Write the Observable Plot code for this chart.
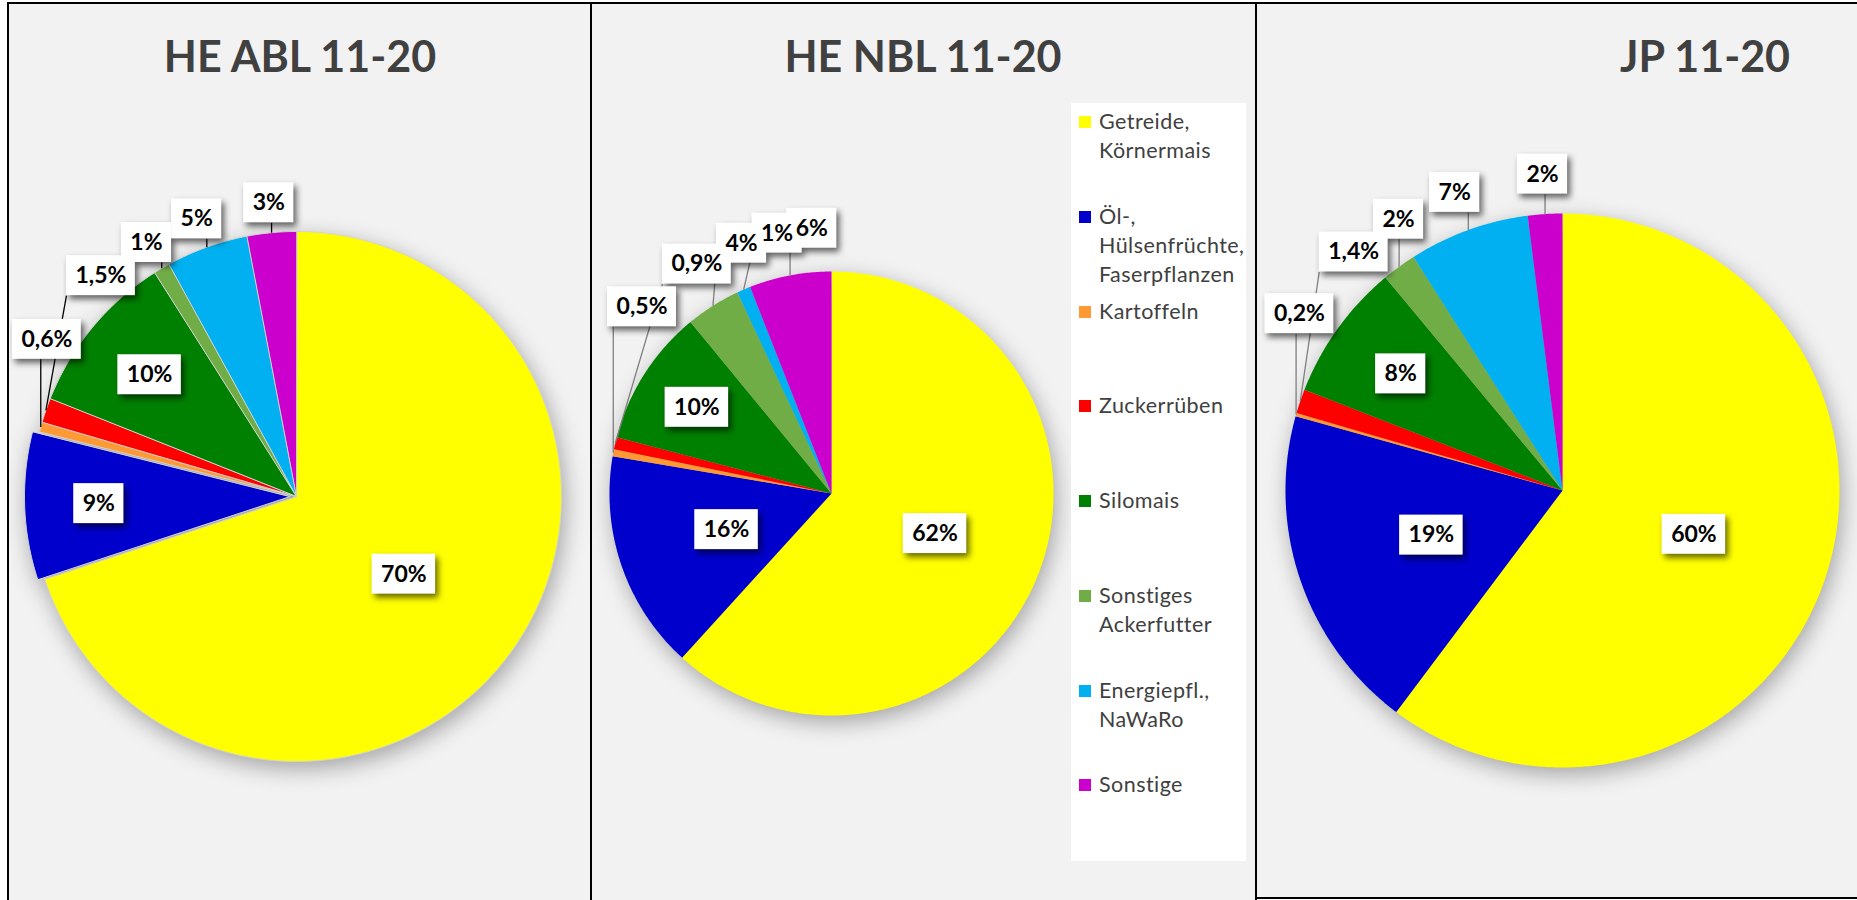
<!DOCTYPE html>
<html>
<head>
<meta charset="utf-8">
<script src="https://cdn.jsdelivr.net/npm/d3@7"></script>
<script src="https://cdn.jsdelivr.net/npm/@observablehq/plot@0.6"></script>
<style>
  html, body { margin: 0; padding: 0; }
  body { width: 1857px; height: 900px; overflow: hidden; position: relative; background: #ffffff; font-family: Lato, "Open Sans", sans-serif; }
  .panel { position: absolute; box-sizing: border-box; border: 2px solid #000; background: #f2f2f2; }
  .title { position: absolute; top: 34px; font-family: Lato, sans-serif; font-weight: 700; font-size: 43px; line-height: 43px; color: #404040; white-space: nowrap; transform: translateX(-50%); }
  .chart { position: absolute; top: 0; }
  .chart g[aria-label="line"] { filter: drop-shadow(3px 7px 11px rgba(0,0,0,0.32)); }
  .chart g[aria-label="rect"] { filter: drop-shadow(3px 4px 3px rgba(0,0,0,0.6)); }
  .legend { position: absolute; left: 1071px; top: 103px; width: 175px; height: 758px; background: #ffffff; display: flex; flex-direction: column; }
  .legend .item { position: relative; flex: 1 1 0; }
  .legend .sw { position: absolute; left: 8px; top: 13px; width: 12px; height: 12px; }
  .legend .tx { position: absolute; left: 28px; top: 4px; width: 148px; font-family: Lato, sans-serif; font-size: 21.5px; line-height: 29px; color: #404040; letter-spacing: 0.45px; }
</style>
</head>
<body>
<div class="panel" style="left:7px;top:2px;width:585px;height:930px;"></div>
<div class="panel" style="left:590px;top:2px;width:667px;height:930px;"></div>
<div class="panel" style="left:1255px;top:2px;width:700px;height:897px;"></div>
<div id="root"></div>
<script>
// ---------------- data ----------------
const categories = [
  "Getreide, Körnermais",
  "Öl-, Hülsenfrüchte, Faserpflanzen",
  "Kartoffeln",
  "Zuckerrüben",
  "Silomais",
  "Sonstiges Ackerfutter",
  "Energiepfl., NaWaRo",
  "Sonstige"
];
const sliceColors = ["#FFFF00", "#0000CC", "#FF9933", "#FF0000", "#008000", "#70AD47", "#00B0F0", "#CC00CC"];
const chartTitles = ["HE ABL 11-20", "HE NBL 11-20", "JP 11-20"];
const valuesABL = [70, 9, 0.6, 1.5, 10, 1, 5, 3];
const valuesNBL = [62, 16, 0.5, 0.9, 10, 4, 1, 6];
const valuesJP  = [60, 19, 0.2, 1.4, 8, 2, 7, 2];

// ---------------- layout (pixels) ----------------
const H = 900;
const panels = [
  {values: valuesABL, title: chartTitles[0], left: 0, width: 592, cx: 296, cy: 496, r: 265, titleX: 300,
   minX: 11, gap: 30, explode: [0, 7, 0, 0, 0, 0, 0, 0], sliceStroke: "#d2d2d2", leaderColor: "#000000"},
  {values: valuesNBL, title: chartTitles[1], left: 592, width: 663, cx: 239, cy: 493, r: 222, titleX: 923,
   minX: 14, gap: 44, explode: [0, 0, 0, 0, 0, 0, 0, 0], sliceStroke: "none", leaderColor: "#7f7f7f"},
  {values: valuesJP, title: chartTitles[2], left: 1257, width: 600, cx: 305, cy: 490, r: 277, titleX: 1705,
   minX: 6, gap: 40, explode: [0, 0, 0, 0, 0, 0, 0, 0], sliceStroke: "none", leaderColor: "#7f7f7f"}
];
const labelFont = 23, padX = 9, boxH = 40;
const overlapTolX = 2 * padX - 2, minGapY = 40;

const ctx = document.createElement("canvas").getContext("2d");
ctx.font = `700 ${labelFont}px Lato`;
const fmt = v => (Number.isInteger(v) ? String(v) : String(v).replace(".", ",")) + "%";
const overlap = (a, b) =>
  Math.abs(a.px - b.px) < (a.w + b.w) / 2 - overlapTolX &&
  Math.abs(a.py - b.py) < (a.h + b.h) / 2 + minGapY;

const root = document.getElementById("root");

for (const P of panels) {
  const R = P.r;
  const total = d3.sum(P.values);
  const arcs = d3.pie().sort(null).value(d => d)(P.values);

  // slice polygons (data units: radius 1, y downwards)
  const offs = arcs.map((a, i) => {
    const mid = (a.startAngle + a.endAngle) / 2;
    const e = (P.explode[i] || 0) / R;
    return [e * Math.sin(mid), -e * Math.cos(mid)];
  });
  const pts = [];
  arcs.forEach((a, i) => {
    const cat = categories[i];
    const [ox, oy] = offs[i];
    pts.push({cat, x: ox, y: oy});
    const n = Math.max(2, Math.ceil((a.endAngle - a.startAngle) / (Math.PI / 360)));
    for (let k = 0; k <= n; k++) {
      const t = a.startAngle + (a.endAngle - a.startAngle) * k / n;
      pts.push({cat, x: ox + Math.sin(t), y: oy - Math.cos(t)});
    }
  });

  // labels (placed in pixels, converted to data units)
  const labels = arcs.map((a, i) => {
    const v = P.values[i];
    const share = v / total;
    const text = fmt(v);
    const w = ctx.measureText(text).width + 2 * padX;
    const mid = (a.startAngle + a.endAngle) / 2;
    let dist, inside = true;
    if (share >= 0.15) dist = 0.5 * R;
    else if (share >= 0.075) dist = 0.72 * R;
    else { dist = R + P.gap; inside = false; }
    return {i, text, w, h: boxH, mid, theta: mid, dist, inside};
  });
  const setPos = l => {
    const [ox, oy] = offs[l.i];
    l.px = P.cx + ox * R + l.dist * Math.sin(l.theta);
    l.py = P.cy + oy * R - l.dist * Math.cos(l.theta);
  };
  labels.forEach(setPos);
  const outs = labels.filter(l => !l.inside).sort((a, b) => a.theta - b.theta);
  const placed = [];
  for (const l of outs) {
    for (let g = 0; g < 720; g++) {
      setPos(l);
      const okLeft = l.px - l.w / 2 >= P.minX;
      const okOthers = placed.every(o => !overlap(l, o));
      if (okLeft && okOthers) break;
      l.theta += Math.PI / 360;
    }
    placed.push(l);
  }

  const toX = px => (px - P.cx) / R;
  const toY = py => (py - P.cy) / R;
  const boxes = labels.map(l => ({
    text: l.text,
    x: toX(l.px), y: toY(l.py),
    x1: toX(l.px - l.w / 2), x2: toX(l.px + l.w / 2),
    y1: toY(l.py - l.h / 2), y2: toY(l.py + l.h / 2)
  }));
  const leaders = [];
  for (const l of outs) {
    const [ox, oy] = offs[l.i];
    const ex = P.cx + ox * R + R * Math.sin(l.mid);
    const ey = P.cy + oy * R - R * Math.cos(l.mid);
    const nx = Math.max(l.px - l.w / 2, Math.min(ex, l.px + l.w / 2));
    const ny = Math.max(l.py - l.h / 2, Math.min(ey, l.py + l.h / 2));
    if (Math.hypot(nx - ex, ny - ey) > 5) leaders.push({x1: toX(ex), y1: toY(ey), x2: toX(nx), y2: toY(ny)});
  }

  const svg = Plot.plot({
    width: P.width,
    height: H,
    margin: 0,
    x: {domain: [-P.cx / R, (P.width - P.cx) / R], range: [0, P.width], axis: null},
    y: {domain: [-P.cy / R, (H - P.cy) / R], range: [0, H], axis: null},
    color: {domain: categories, range: sliceColors},
    style: {background: "transparent", overflow: "visible", maxWidth: "none"},
    marks: [
      Plot.line(pts, {x: "x", y: "y", z: "cat", fill: "cat", stroke: P.sliceStroke, strokeWidth: 1, curve: "linear-closed"}),
      Plot.link(leaders, {x1: "x1", y1: "y1", x2: "x2", y2: "y2", stroke: P.leaderColor, strokeWidth: 1.3}),
      Plot.rect(boxes, {x1: "x1", x2: "x2", y1: "y1", y2: "y2", fill: "#ffffff"}),
      Plot.text(boxes, {x: "x", y: "y", text: "text", fontSize: labelFont, fontWeight: 700, fontFamily: "Lato", fill: "#000000"})
    ]
  });
  svg.classList.add("chart");
  svg.style.left = P.left + "px";
  svg.style.position = "absolute";
  svg.style.top = "0px";
  root.appendChild(svg);

  const t = document.createElement("div");
  t.className = "title";
  t.style.left = P.titleX + "px";
  t.textContent = P.title;
  root.appendChild(t);
}

// legend
const legend = document.createElement("div");
legend.className = "legend";
categories.forEach((c, i) => {
  const item = document.createElement("div");
  item.className = "item";
  const sw = document.createElement("div");
  sw.className = "sw";
  sw.style.background = sliceColors[i];
  const tx = document.createElement("div");
  tx.className = "tx";
  tx.textContent = c;
  item.appendChild(sw);
  item.appendChild(tx);
  legend.appendChild(item);
});
root.appendChild(legend);
</script>
</body>
</html>
